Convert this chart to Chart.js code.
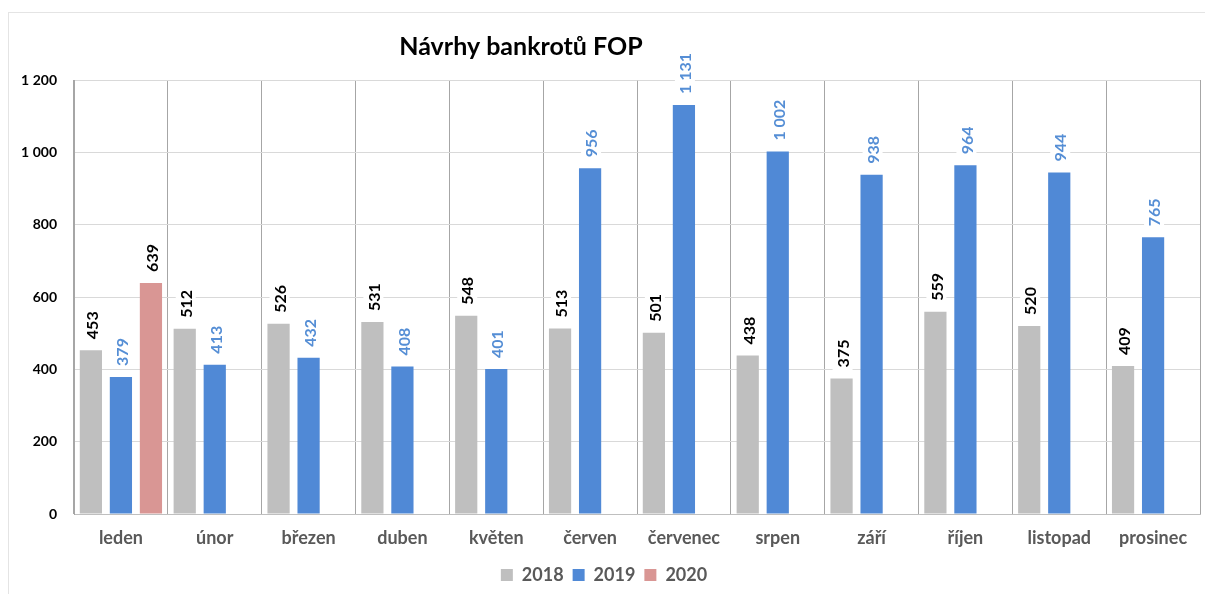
<!DOCTYPE html>
<html>
<head>
<meta charset="utf-8">
<script src="https://cdn.jsdelivr.net/npm/chart.js@4"></script>
<style>
  body { margin: 0; background: #fff; }
  #wrap { position: relative; width: 1205px; height: 594px; }
  #frame { position: absolute; left: 8px; top: 12px; width: 1205px; height: 590px; border: 1px solid #e4e4e4; }
  canvas { position: absolute; left: 0; top: 0; }
</style>
</head>
<body>
<div id="wrap">
  <div id="frame"></div>
  <canvas id="bankroty" width="1205" height="594"></canvas>
</div>
<script>
var months = ["leden", "únor", "březen", "duben", "květen", "červen", "červenec", "srpen", "září", "říjen", "listopad", "prosinec"];
var y2018 = [453, 512, 526, 531, 548, 513, 501, 438, 375, 559, 520, 409];
var y2019 = [379, 413, 432, 408, 401, 956, 1131, 1002, 938, 964, 944, 765];
var y2020 = [639, null, null, null, null, null, null, null, null, null, null, null];
var yTicks = [0, 200, 400, 600, 800, 1000, 1200];

const fmt = (v) => String(v).replace(/\B(?=(\d{3})+(?!\d))/g, " ");

// popisky hodnot svisle nad sloupci
const valueLabels = {
  id: "valueLabels",
  afterDatasetsDraw(chart) {
    let c = chart.ctx;
    chart.data.datasets.forEach((ds, i) => {
      let meta = chart.getDatasetMeta(i);
      meta.data.forEach((bar, j) => {
        let v = ds.data[j];
        if (v == null) return;
        let text = fmt(v);
        c.save();
        c.translate(bar.x + 1, bar.y - 11);
        c.rotate(-Math.PI / 2);
        c.font = "bold 16px Lato";
        let w = c.measureText(text).width;
        c.fillStyle = "#fff";
        c.fillRect(-3, -10, w + 6, 20);
        c.fillStyle = ds.labelColor;
        c.textAlign = "left";
        c.textBaseline = "middle";
        c.fillText(text, 0, 1);
        c.restore();
      });
    });
  },
};

const titlePlugin = {
  id: "titlePlugin",
  afterDraw(chart) {
    let c = chart.ctx;
    c.save();
    c.font = "bold 25px Lato";
    c.fillStyle = "#000";
    c.textAlign = "center";
    c.textBaseline = "middle";
    c.fillText("Návrhy bankrotů FOP", 521, 47);
    c.restore();
  },
};

var ctx = document.getElementById("bankroty").getContext("2d");
var chart = new Chart(ctx, {
  type: "bar",
  data: {
    labels: months,
    datasets: [
      { label: "2018", data: y2018, backgroundColor: "#bfbfbf", labelColor: "#000" },
      { label: "2019", data: y2019, backgroundColor: "#5089d6", labelColor: "#558ed5" },
      { label: "2020", data: y2020, backgroundColor: "#d99694", labelColor: "#000" },
    ],
  },
  options: {
    responsive: false,
    animation: false,
    layout: { padding: { left: 8, right: 5, top: 80, bottom: 0 } },
    datasets: { bar: { categoryPercentage: 0.96, barPercentage: 0.74 } },
    scales: {
      x: {
        grid: { color: "#a6a6a6", drawTicks: false },
        border: { color: "#bfbfbf" },
        ticks: { color: "#595959", font: { family: "Lato", size: 18, weight: "bold" }, padding: 13 },
        afterFit: (s) => { s.height = 43; },
      },
      y: {
        min: 0,
        max: 1200,
        grid: { color: "#d9d9d9", drawTicks: false },
        border: { color: "#a6a6a6" },
        afterBuildTicks: (s) => { s.ticks = yTicks.map((v) => ({ value: v })); },
        ticks: {
          color: "#000",
          font: { family: "Lato", size: 14, weight: "bold" },
          padding: 17,
          callback: (v) => fmt(v),
        },
        afterFit: (s) => { s.width = 66; },
      },
    },
    plugins: {
      tooltip: { enabled: false },
      legend: {
        position: "bottom",
        labels: {
          boxWidth: 12,
          boxHeight: 12,
          padding: 9,
          color: "#595959",
          font: { family: "Lato", size: 18, weight: "bold" },
        },
      },
    },
  },
  plugins: [valueLabels, titlePlugin],
});
</script>
</body>
</html>
